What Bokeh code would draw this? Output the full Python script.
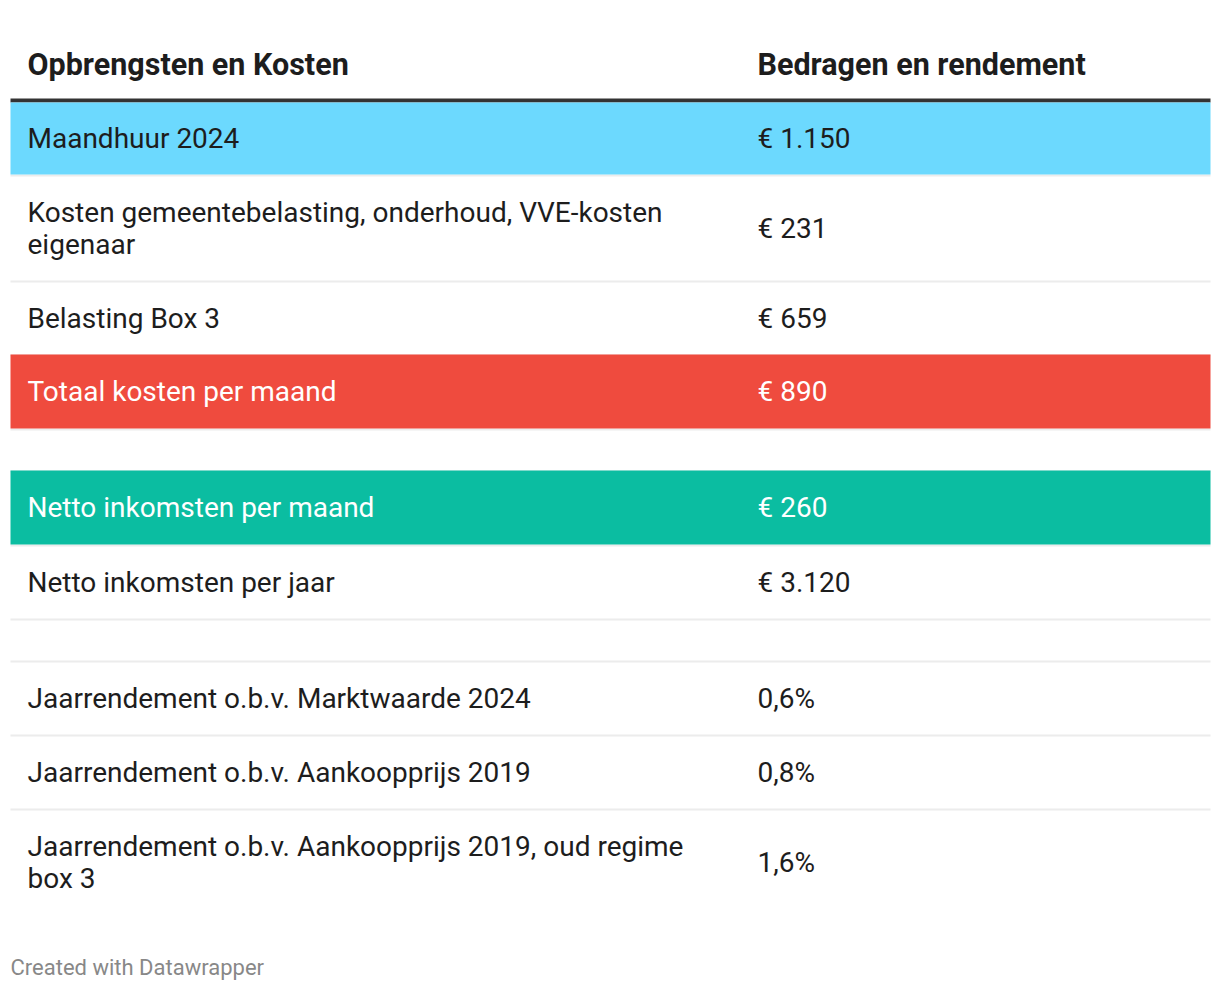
from bokeh.plotting import figure
from bokeh.models import Range1d, ColumnDataSource
from bokeh.core.properties import value
from bokeh.embed import file_html
from bokeh.resources import INLINE

# ---- data ----
header_labels = ["Opbrengsten en Kosten", "Bedragen en rendement"]
row_labels = [
    "Maandhuur 2024",
    "Kosten gemeentebelasting, onderhoud, VVE-kosten\neigenaar",
    "Belasting Box 3",
    "Totaal kosten per maand",
    "",
    "Netto inkomsten per maand",
    "Netto inkomsten per jaar",
    "",
    "Jaarrendement o.b.v. Marktwaarde 2024",
    "Jaarrendement o.b.v. Aankoopprijs 2019",
    "Jaarrendement o.b.v. Aankoopprijs 2019, oud regime\nbox 3",
]
row_values = ["€ 1.150", "€ 231", "€ 659", "€ 890", "", "€ 260", "€ 3.120", "", "0,6%", "0,8%", "1,6%"]
row_highlight = ["blue", "", "", "red", "", "green", "", "", "", "", ""]
footer = "Created with Datawrapper"

# ---- style ----
FONT = "Roboto"
FS = "28px"
HFS = "30.5px"
TXT = "#1d1d1d"
FILLS = {"blue": "#6cd9fe", "red": "#ef4b3e", "green": "#0bbda1"}
TXTC = {"blue": TXT, "red": "#ffffff", "green": "#ffffff", "": TXT}
BORDER = "#ececec"

W, H = 1220, 990
p = figure(width=W, height=H, x_range=Range1d(0, W), y_range=Range1d(H, 0),
           output_backend="svg", toolbar_location=None, min_border=0)
p.axis.visible = False
p.grid.visible = False
p.outline_line_color = None
p.background_fill_color = "white"
p.border_fill_color = "white"

LEFT, RIGHT = 10, 1210
X1, X2 = 27, 757

# header
p.text(x=[X1, X2], y=[64, 64], text=header_labels, text_font=value(FONT), text_font_size=HFS,
       text_font_style="bold", text_color=TXT, text_baseline="middle", text_align="left")
p.quad(left=[LEFT], right=[RIGHT], top=[98], bottom=[102], fill_color="#333333", line_color=None)

# rows
y0 = 102
bd_l, bd_r, bd_t, bd_b = [], [], [], []
bx_l, bx_r, bx_t, bx_b, bx_c = [], [], [], [], []
t_x, t_y, t_t, t_c = [], [], [], []
for i, (lab, val, hl) in enumerate(zip(row_labels, row_values, row_highlight)):
    if lab == "":
        h = 42
    elif "\n" in lab:
        h = 106
    else:
        h = 74
    if i < len(row_labels) - 1:
        bd_l.append(LEFT); bd_r.append(RIGHT); bd_t.append(y0 + h - 2); bd_b.append(y0 + h)
    if hl:
        top = y0 if i == 0 else y0 - 2
        bx_l.append(LEFT); bx_r.append(RIGHT); bx_t.append(top); bx_b.append(y0 + h - 2)
        bx_c.append(FILLS[hl])
    cy = y0 + (h - 2) / 2 - (0 if i == 0 or not hl else 1)
    if lab:
        t_x += [X1, X2]; t_y += [cy, cy]; t_t += [lab, val]; t_c += [TXTC[hl], TXTC[hl]]
    y0 += h

p.quad(left=bd_l, right=bd_r, top=bd_t, bottom=bd_b, fill_color=BORDER, line_color=None)
p.quad(source=ColumnDataSource(dict(l=bx_l, r=bx_r, t=bx_t, b=bx_b, c=bx_c)),
       left="l", right="r", top="t", bottom="b", fill_color="c", line_color=None)
p.text(source=ColumnDataSource(dict(x=t_x, y=t_y, t=t_t, c=t_c)), x="x", y="y", text="t",
       text_color="c", text_font=value(FONT), text_font_size=FS, text_baseline="middle",
       text_align="left", text_line_height=0.95)

# footer
p.text(x=[10], y=[967], text=[footer], text_font=value(FONT), text_font_size="22px",
       text_color="#888888", text_baseline="middle", text_align="left")

open("out.html", "w").write(file_html(p, INLINE))
